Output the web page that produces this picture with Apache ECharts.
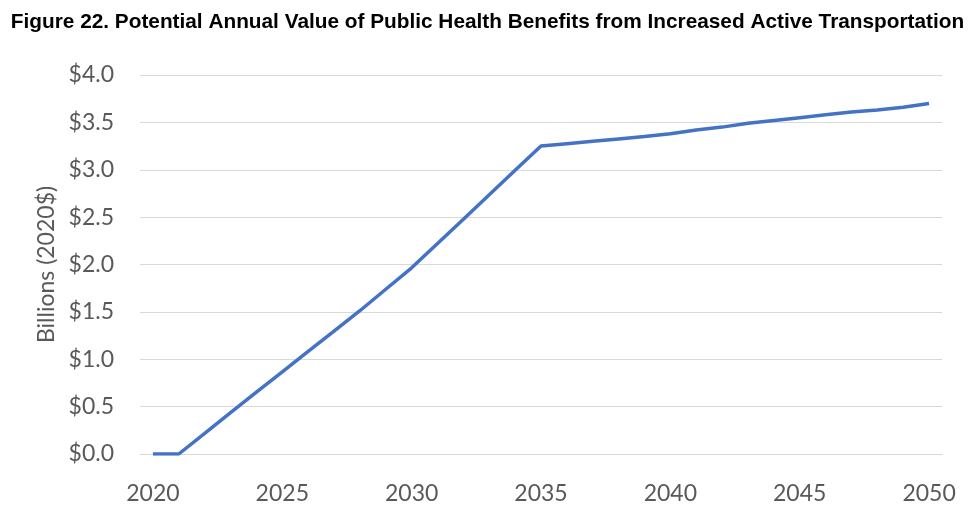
<!DOCTYPE html>
<html>
<head>
<meta charset="utf-8">
<script src="https://cdn.jsdelivr.net/npm/echarts@6/dist/echarts.min.js"></script>
<style>html,body{margin:0;padding:0;background:#fff}#c{width:975px;height:522px}</style>
</head>
<body>
<div id="c"></div>
<script>
const titleText = 'Figure 22. Potential Annual Value of Public Health Benefits from Increased Active Transportation';
const yAxisName = 'Billions (2020$)';
const years = ['2020','2021','2022','2023','2024','2025','2026','2027','2028','2029','2030',
  '2031','2032','2033','2034','2035','2036','2037','2038','2039','2040',
  '2041','2042','2043','2044','2045','2046','2047','2048','2049','2050'];
const benefits = [0, 0, 0.217, 0.436, 0.652, 0.867, 1.082, 1.297, 1.512, 1.739, 1.965,
  2.221, 2.478, 2.737, 2.994, 3.25, 3.275, 3.30, 3.325, 3.35, 3.38,
  3.42, 3.45, 3.49, 3.52, 3.55, 3.58, 3.61, 3.63, 3.66, 3.70];

const chart = echarts.init(document.getElementById('c'));
const axisFont = { color: '#595959', fontSize: 23, fontFamily: 'Lato, "Open Sans", sans-serif' };
chart.setOption({
  animation: false,
  title: {
    text: titleText, left: 'center', top: 7,
    textStyle: { fontFamily: '"Liberation Sans", Arial, sans-serif', fontWeight: 'bold', fontSize: 20.8, color: '#000' }
  },
  grid: { left: 140, right: 33, top: 75, bottom: 68 },
  xAxis: {
    type: 'category', data: years, boundaryGap: true,
    axisLine: { lineStyle: { color: '#d9d9d9' } },
    axisTick: { show: false },
    axisLabel: Object.assign({ interval: 4, margin: 28 }, axisFont)
  },
  yAxis: {
    type: 'value', min: 0, max: 4, interval: 0.5,
    name: yAxisName, nameLocation: 'middle', nameGap: 80, nameRotate: 90,
    nameTextStyle: axisFont,
    axisLine: { show: false }, axisTick: { show: false },
    splitLine: { lineStyle: { color: '#d9d9d9', width: 1 } },
    axisLabel: Object.assign({ margin: 26, formatter: v => '$' + v.toFixed(1) }, axisFont)
  },
  series: [{
    type: 'line', data: benefits, showSymbol: false,
    lineStyle: { color: '#4472C4', width: 3.5 },
    itemStyle: { color: '#4472C4' }
  }]
});
</script>
</body>
</html>
